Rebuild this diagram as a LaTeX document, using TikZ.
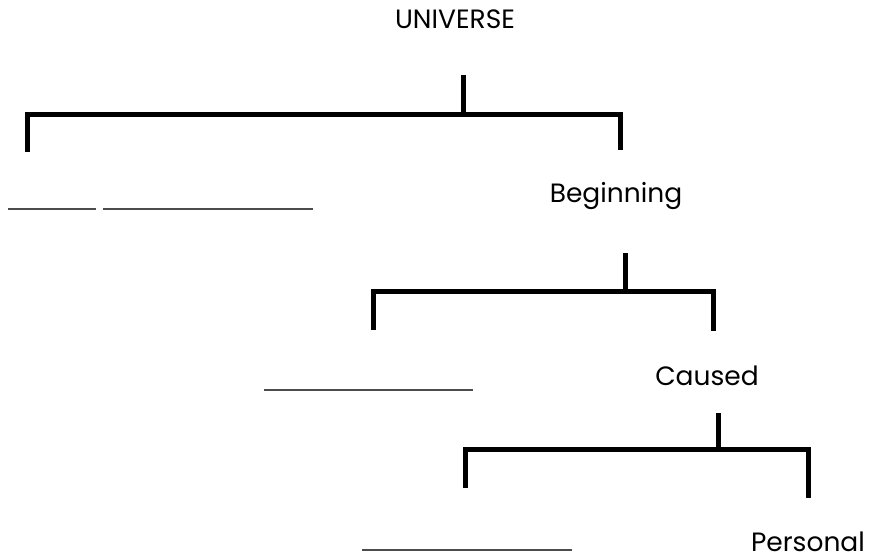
\documentclass[tikz,border=0pt]{standalone}
\usepackage{fontspec}
\setmainfont{Poppins}

\begin{document}
\begin{tikzpicture}[x=1pt, y=-1pt,
    brace/.style={line width=5pt, line cap=butt, line join=miter},
    blank/.style={line width=2pt, draw=black!70},
    lbl/.style={font=\fontsize{26.5}{30}\selectfont, inner sep=0pt, anchor=base}]
    \useasboundingbox (0,0) rectangle (870,558);

    \node[lbl] (universe) at (455, 28) {UNIVERSE};
    \node[lbl] (beginning) at (616, 202) {Beginning};
    \node[lbl] (caused) at (707, 385) {Caused};
    \node[lbl] (personal) at (808, 551) {Personal};

    \draw[brace] (463, 75) -- (463, 114);
    \draw[brace] (27, 152) -- (27, 114) -- (620, 114) -- (620, 150);
    \draw[blank] (8, 209) -- (96, 209);
    \draw[blank] (103, 209) -- (313, 209);

    \draw[brace] (625, 253) -- (625, 291);
    \draw[brace] (373, 330) -- (373, 291) -- (713, 291) -- (713, 331);
    \draw[blank] (264, 390) -- (473, 390);

    \draw[brace] (718, 413) -- (718, 449);
    \draw[brace] (465, 488) -- (465, 449) -- (808, 449) -- (808, 498);
    \draw[blank] (362, 550) -- (572, 550);
\end{tikzpicture}
\end{document}
